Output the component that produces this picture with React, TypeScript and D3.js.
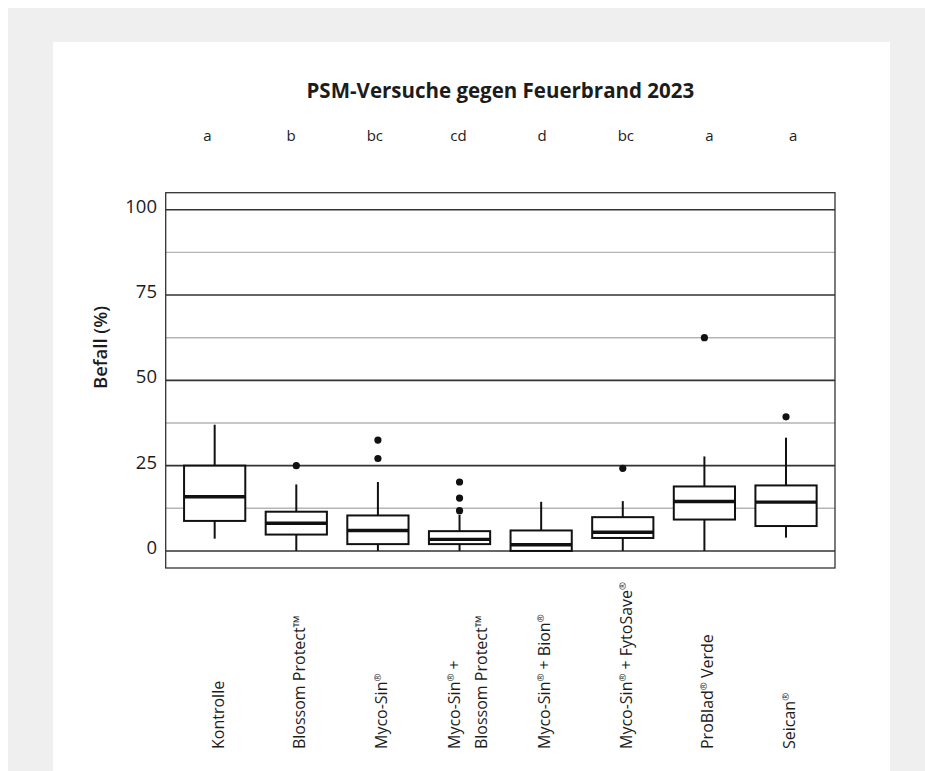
import * as d3 from 'd3'

// Befall (%) per Variante
const categories = [
  'Kontrolle',
  'Blossom Protect™',
  'Myco-Sin®',
  'Myco-Sin® +\nBlossom Protect™',
  'Myco-Sin® + Bion®',
  'Myco-Sin® + FytoSave®',
  'ProBlad® Verde',
  'Seican®',
]
const letters = ['a', 'b', 'bc', 'cd', 'd', 'bc', 'a', 'a']
const whiskerLow = [3.6, 0, 0, 0, 0, 0, 0, 3.9]
const q1 = [8.8, 4.8, 2.0, 2.0, 0, 3.8, 9.2, 7.3]
const median = [15.9, 8.1, 6.0, 3.4, 1.8, 5.5, 14.5, 14.3]
const q3 = [25.0, 11.5, 10.4, 5.8, 6.0, 9.9, 18.9, 19.2]
const whiskerHigh = [37.0, 19.5, 20.2, 10.6, 14.4, 14.6, 27.7, 33.2]
const outliers = [[], [25.0], [32.5, 27.1], [20.2, 15.5, 11.8], [], [24.2], [62.5], [39.3]]
const majorTicks = [0, 25, 50, 75, 100]
const minorTicks = [12.5, 37.5, 62.5, 87.5]

const font = "'Open Sans', 'Noto Sans', sans-serif"
const ink = '#1c1c1c'

// splits a label into tspans, ® as small superscript
function labelSpans(text: string) {
  const parts = text.split(/(®)/)
  return parts.map((p, i) =>
    p === '®' ? (
      <tspan key={i} fontSize={9.5} dy={-6}>®</tspan>
    ) : (
      <tspan key={i} dy={i > 0 ? 6 : 0}>{p}</tspan>
    )
  )
}

export default function App() {
  const left = 165.7
  const right = 835
  const top = 192.7
  const bottom = 568

  const x = d3.scaleLinear().domain([0.4, categories.length + 0.6]).range([left, right])
  const y = d3.scaleLinear().domain([-5, 105]).range([bottom, top])
  const letterX = d3.scalePoint<string>()
    .domain(categories)
    .range([left, right])
    .padding(0.5)

  const boxW = x(0.75) - x(0)

  return (
    <>
      <style>{'body{margin:8px 0 0 8px;overflow:hidden}'}</style>
      <svg width={917} height={763} style={{ display: 'block' }}>
        <g transform="translate(-8,-8)" fontFamily={font} fill={ink}>
          <rect x={8} y={8} width={917} height={763} fill="#f0eff0" />
          <rect x={53} y={42} width={837} height={729} fill="#ffffff" />

          {/* Titel */}
          <text x={(left + right) / 2} y={98} textAnchor="middle" fontSize={20.5} fontWeight={700}>
            PSM-Versuche gegen Feuerbrand 2023
          </text>

          {/* Signifikanzbuchstaben */}
          {letters.map((l, i) => (
            <text key={i} x={letterX(categories[i])} y={140.5} textAnchor="middle" fontSize={15}>
              {l}
            </text>
          ))}

          {/* Gitter */}
          {minorTicks.map(t => (
            <line key={t} x1={left} x2={right} y1={y(t)} y2={y(t)} stroke="#b5b5b5" strokeWidth={1.4} />
          ))}
          {majorTicks.map(t => (
            <line key={t} x1={left} x2={right} y1={y(t)} y2={y(t)} stroke="#333333" strokeWidth={1.6} />
          ))}

          {/* Boxplots */}
          {categories.map((c, i) => {
            const cx = x(i + 1)
            return (
              <g key={c} stroke="#111111" fill="none">
                <line x1={cx} x2={cx} y1={y(whiskerLow[i])} y2={y(q1[i])} strokeWidth={2} />
                <line x1={cx} x2={cx} y1={y(q3[i])} y2={y(whiskerHigh[i])} strokeWidth={2} />
                <rect
                  x={cx - boxW / 2}
                  y={y(q3[i])}
                  width={boxW}
                  height={y(q1[i]) - y(q3[i])}
                  fill="#ffffff"
                  strokeWidth={2}
                />
                <line x1={cx - boxW / 2} x2={cx + boxW / 2} y1={y(median[i])} y2={y(median[i])} strokeWidth={3.4} />
                {outliers[i].map((o, j) => (
                  <circle key={j} cx={cx} cy={y(o)} r={3.6} fill="#111111" stroke="none" />
                ))}
              </g>
            )
          })}

          {/* Rahmen */}
          <rect x={left} y={top} width={right - left} height={bottom - top} fill="none" stroke="#333333" strokeWidth={1.3} />

          {/* y-Achse */}
          {majorTicks.map(t => (
            <text key={t} x={157} y={y(t) + 3} textAnchor="end" fontSize={18.5}>
              {t}
            </text>
          ))}
          <text
            transform="translate(107,347.5) rotate(-90)"
            textAnchor="middle"
            fontSize={18.5}
            fontWeight={600}
          >
            Befall (%)
          </text>

          {/* x-Achse */}
          {categories.map((c, i) => {
            const lines = c.split('\n')
            const cx = x(i + 1)
            return lines.map((ln, k) => {
              const bx = lines.length > 1 ? cx + k * 27 : cx + 9
              return (
                <text
                  key={c + k}
                  transform={`translate(${bx},749) rotate(-90)`}
                  textAnchor="start"
                  fontSize={16}
                >
                  {labelSpans(ln)}
                </text>
              )
            })
          })}
        </g>
      </svg>
    </>
  )
}
